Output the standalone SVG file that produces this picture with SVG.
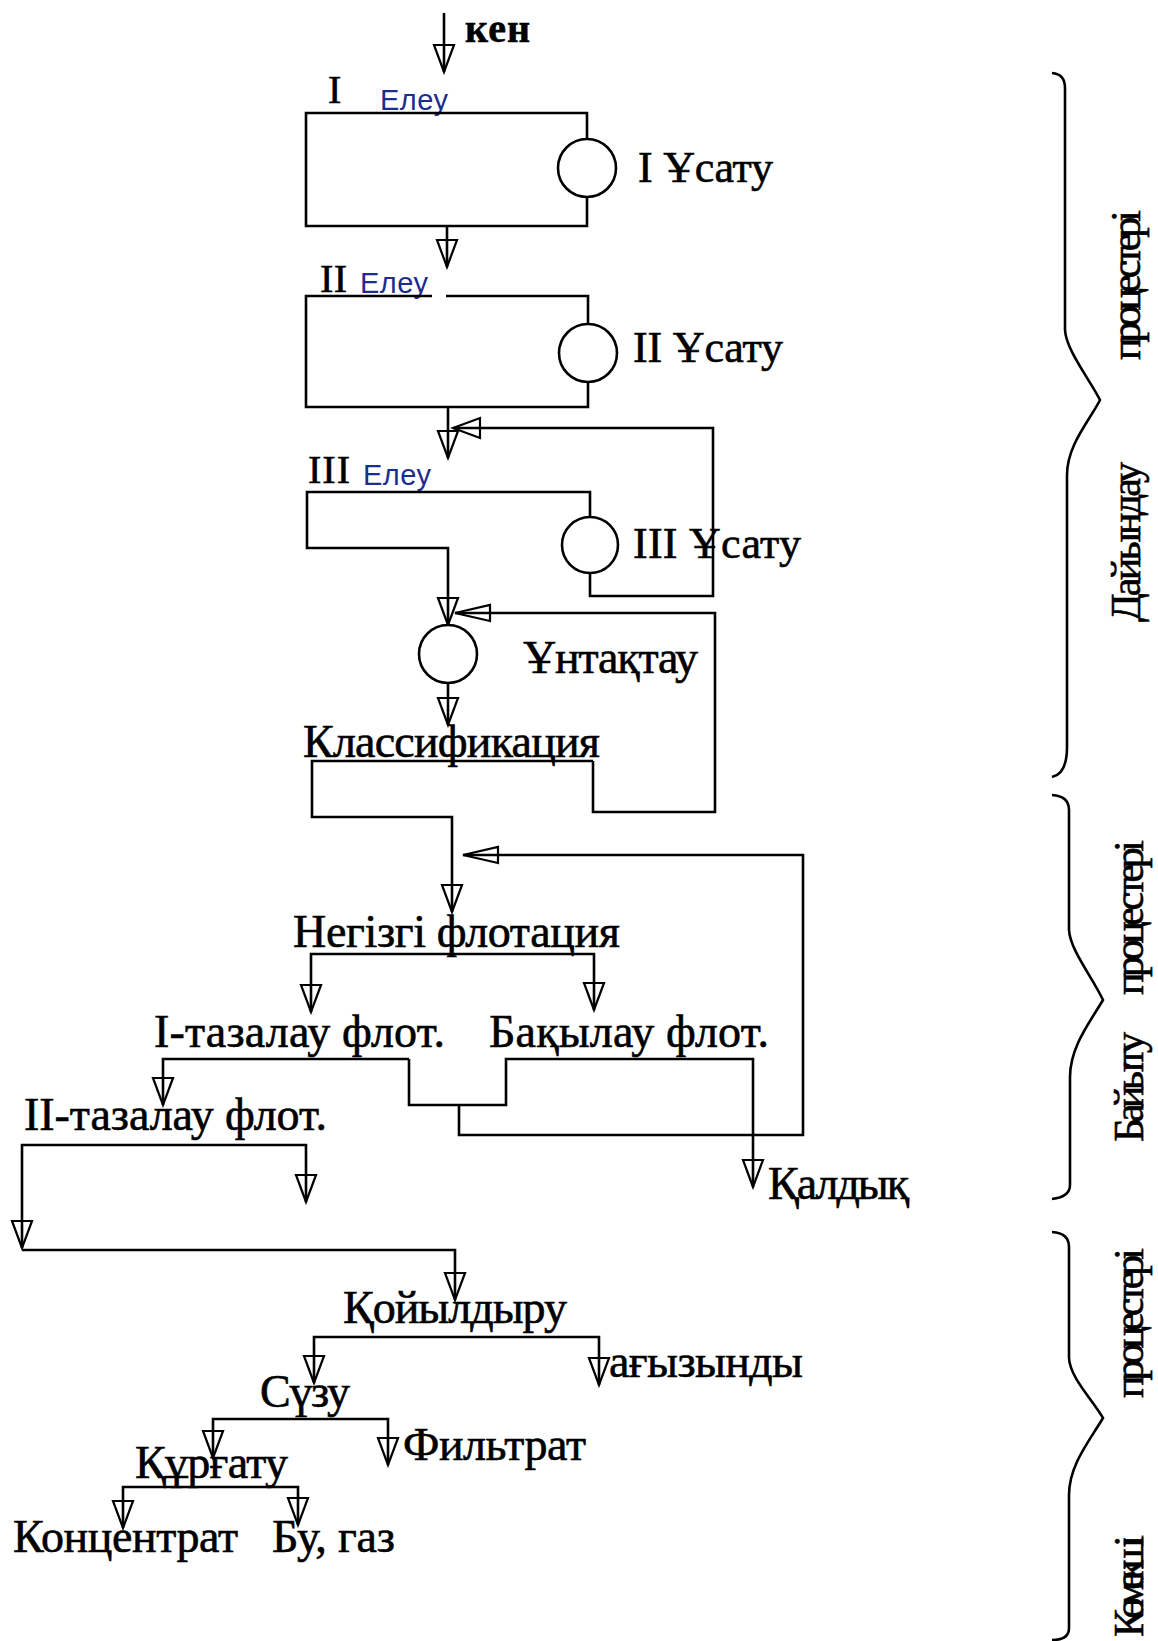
<svg xmlns="http://www.w3.org/2000/svg" width="1158" height="1641" viewBox="0 0 1158 1641">
<defs>
<style>
.ln{fill:none;stroke:#000;stroke-width:2.6}
.br{fill:none;stroke:#000;stroke-width:2.6}
.c{fill:#fff;stroke:#000;stroke-width:2.6}
.t{font-family:"Liberation Serif","Times New Roman",serif;font-size:46px;fill:#000;stroke:#000;stroke-width:0.6}
.u{font-size:44px}
.b{font-weight:bold;font-size:40px}
.n{font-size:40px}
.e{font-family:"Liberation Sans",Arial,sans-serif;font-size:29px;fill:#1b2d8f}
.r{font-size:42px}
</style>
<marker id="ah" markerUnits="userSpaceOnUse" viewBox="-2 -2 32 24" markerWidth="32" markerHeight="24" refX="27" refY="10" orient="auto"><path d="M0,0 L27,10 L0,20 Z" fill="none" stroke="#000" stroke-width="2.2"/></marker>
<marker id="ahl" markerUnits="userSpaceOnUse" viewBox="-2 -2 40 20" markerWidth="40" markerHeight="20" refX="35" refY="8" orient="auto"><path d="M0,0 L35,8 L0,16 Z" fill="none" stroke="#000" stroke-width="2.2"/></marker>
</defs>
<rect width="1158" height="1641" fill="#fff"/>

<g id="connectors">
<path class="ln" d="M444,13 V72" marker-end="url(#ah)"/>
<path class="ln" d="M447,226 V267" marker-end="url(#ah)"/>
<path class="ln" d="M448,407 V458" marker-end="url(#ah)"/>
<path class="ln" d="M590,573 V596 H713 V428 H453" marker-end="url(#ah)"/>
<path class="ln" d="M593,761 H312 V817 H452 V912" marker-end="url(#ah)"/>
<path class="ln" d="M593,761 V812 H715 V613 H455" marker-end="url(#ahl)"/>
<path class="ln" d="M448,683 V725" marker-end="url(#ah)"/>
<path class="ln" d="M452,954 H311 V1012" marker-end="url(#ah)"/>
<path class="ln" d="M452,954 H594 V1010" marker-end="url(#ah)"/>
<path class="ln" d="M409,1059 H163 V1105" marker-end="url(#ah)"/>
<path class="ln" d="M409,1059 V1105 H506 V1059 H753 V1187" marker-end="url(#ah)"/>
<path class="ln" d="M459,1105 V1135 H803 V855 H463" marker-end="url(#ahl)"/>
<path class="ln" d="M164,1145 H22 V1248" marker-end="url(#ah)"/>
<path class="ln" d="M164,1145 H306 V1202" marker-end="url(#ah)"/>
<path class="ln" d="M22,1250 H455 V1300" marker-end="url(#ah)"/>
<path class="ln" d="M455,1337 H314 V1383" marker-end="url(#ah)"/>
<path class="ln" d="M455,1337 H599 V1385" marker-end="url(#ah)"/>
<path class="ln" d="M300,1419 H213 V1458" marker-end="url(#ah)"/>
<path class="ln" d="M300,1419 H388 V1465" marker-end="url(#ah)"/>
<path class="ln" d="M210,1487 H123 V1528" marker-end="url(#ah)"/>
<path class="ln" d="M210,1487 H298 V1525" marker-end="url(#ah)"/>
</g>

<g id="feed"><text class="t b" x="465" y="42" textLength="65">кен</text></g>

<g id="screen1">
<text class="t n" x="328" y="103">I</text>
<text class="e" x="380" y="110" textLength="68">Елеу</text>
<path class="ln" d="M587,139 V113 H306 V226 H587 V197"/>
</g>
<g id="crush1">
<circle class="c" cx="587" cy="168" r="29"/>
<text class="t u" x="638" y="182" textLength="135">I Ұсату</text>
</g>

<g id="screen2">
<text class="t n" x="320" y="292" textLength="27">II</text>
<text class="e" x="360" y="293" textLength="68">Елеу</text>
<path class="ln" d="M588,324 V296 H446 M432,296 H306 V407 H588 V382"/>
</g>
<g id="crush2">
<circle class="c" cx="588" cy="353" r="29"/>
<text class="t u" x="633" y="362" textLength="150">II Ұсату</text>
</g>

<g id="screen3">
<text class="t n" x="308" y="483" textLength="42">III</text>
<text class="e" x="363" y="485" textLength="68">Елеу</text>
<path class="ln" d="M590,517 V492 H307 V548 H448 V625" marker-end="url(#ah)"/>
</g>
<g id="crush3">
<circle class="c" cx="590" cy="545" r="28"/>
<text class="t u" x="633" y="558" textLength="168">III Ұсату</text>
</g>

<g id="grind">
<circle class="c" cx="448" cy="654" r="29"/>
<text class="t" x="523" y="673" textLength="175">Ұнтақтау</text>
</g>

<g id="classify"><text class="t" x="303" y="757" textLength="297">Классификация</text></g>
<g id="mainflot"><text class="t" x="293" y="947" textLength="327">Негізгі флотация</text></g>
<g id="clean1"><text class="t" x="154" y="1047" textLength="291">I-тазалау флот.</text></g>
<g id="scav"><text class="t" x="489" y="1047" textLength="280">Бақылау флот.</text></g>
<g id="tail"><text class="t" x="768" y="1199" textLength="141">Қалдық</text></g>
<g id="clean2"><text class="t" x="24" y="1130" textLength="303">II-тазалау флот.</text></g>
<g id="thick"><text class="t" x="343" y="1323" textLength="224">Қойылдыру</text></g>
<g id="overflow"><text class="t" x="609" y="1377" textLength="194">ағызынды</text></g>
<g id="filter"><text class="t" x="260" y="1407" textLength="90">Сүзу</text></g>
<g id="filtrate"><text class="t" x="403" y="1460" textLength="183">Фильтрат</text></g>
<g id="dry"><text class="t" x="135" y="1478" textLength="153">Құрғату</text></g>
<g id="conc"><text class="t" x="13" y="1552" textLength="225">Концентрат</text></g>
<g id="gas"><text class="t" x="272" y="1552" textLength="123">Бу, газ</text></g>

<g id="brace1">
<path class="br" d="M1052,73 Q1065,74 1065,88 V330 C1066,350 1090,380 1100,400 C1090,420 1067,445 1067,475 V747 Q1067,774 1052,777"/>
<text class="t r" transform="translate(1140,622) rotate(-90)" textLength="160">Дайындау</text>
<text class="t r" transform="translate(1140,360) rotate(-90)" textLength="150">процестері</text>
</g>
<g id="brace2">
<path class="br" d="M1052,795 Q1069,796 1069,810 V930 C1070,950 1093,978 1103,1000 C1090,1022 1070,1047 1070,1077 V1185 Q1070,1197 1052,1199"/>
<text class="t r" transform="translate(1143,1142) rotate(-90)" textLength="110">Байыту</text>
<text class="t r" transform="translate(1143,995) rotate(-90)" textLength="155">процестері</text>
</g>
<g id="brace3">
<path class="br" d="M1052,1232 Q1069,1233 1069,1247 V1358 C1070,1378 1093,1400 1103,1418 C1090,1440 1069,1465 1069,1495 V1628 Q1069,1640 1052,1640"/>
<text class="t r" transform="translate(1143,1637) rotate(-90)" textLength="102">Көмекші</text>
<text class="t r" transform="translate(1143,1398) rotate(-90)" textLength="150">процестері</text>
</g>
</svg>
